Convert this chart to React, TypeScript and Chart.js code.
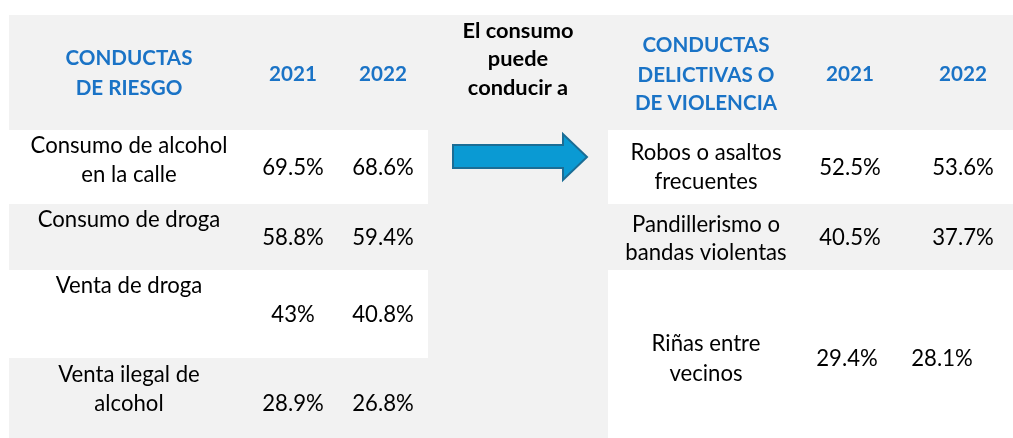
import React, { useEffect, useRef } from 'react';
import { Chart, registerables } from 'chart.js';

Chart.register(...registerables);

// ---- data ----
const riskHeader = ['CONDUCTAS', 'DE RIESGO'];
const years = ['2021', '2022'];
const riskBehaviors = [
  ['Consumo de alcohol', 'en la calle'],
  ['Consumo de droga'],
  ['Venta de droga'],
  ['Venta ilegal de', 'alcohol'],
];
const risk2021 = [69.5, 58.8, 43, 28.9];
const risk2022 = [68.6, 59.4, 40.8, 26.8];
const linkText = ['El consumo', 'puede', 'conducir a'];
const crimeHeader = ['CONDUCTAS', 'DELICTIVAS O', 'DE VIOLENCIA'];
const crimeBehaviors = [
  ['Robos o asaltos', 'frecuentes'],
  ['Pandillerismo o', 'bandas violentas'],
  ['Riñas entre', 'vecinos'],
];
const crime2021 = [52.5, 40.5, 29.4];
const crime2022 = [53.6, 37.7, 28.1];

const fmt = (v: number) => (Number.isInteger(v) ? `${v}%` : `${v.toFixed(1)}%`);

export default function App() {
  const ref = useRef<HTMLCanvasElement>(null);

  useEffect(() => {
    document.body.style.margin = '0';
    const FONT = 'Lato, "Noto Sans", sans-serif';
    const GRAY = '#f2f2f2';
    const BLUE = '#1a73c6';

    // layout (pixel units of the 1013x438 scale space)
    const L = {
      area: [9, 1013, 15, 438],
      leftX: [9, 428],
      rightX: [608, 1013],
      leftWhite: [[130, 204], [270, 358]],
      rightWhite: [[130, 204], [270, 438]],
      leftLabelX: 129,
      leftYearX: [293, 383],
      leftHeaderY: [65, 95],
      yearY: 81,
      linkX: 518,
      linkY: [38, 66, 95],
      rightLabelX: 706,
      rightYearX: [850, 963],
      rightHeaderY: [52, 82, 110],
      leftRowLabelY: [[153, 182], [227], [293], [382, 411]],
      leftRowValueY: [175, 245, 322, 411],
      rightRowLabelY: [[160, 189], [231.5, 260], [351, 381]],
      rightRowValueY: [175, 245, 366],
      rightValueX: [[850, 963], [850, 963], [847, 942]],
    };

    const tablePlugin = {
      id: 'tablePlugin',
      beforeDatasetsDraw(chart: any) {
        const { ctx } = chart;
        const X = (v: number) => chart.scales.x.getPixelForValue(v);
        const Y = (v: number) => chart.scales.y.getPixelForValue(v);
        const rect = (x0: number, x1: number, y0: number, y1: number, c: string) => {
          ctx.fillStyle = c;
          ctx.fillRect(X(x0), Y(y0), X(x1) - X(x0), Y(y1) - Y(y0));
        };
        ctx.save();
        // font sizing to match reference widths
        ctx.font = `24px ${FONT}`;
        const bodySize = (24 * 197) / ctx.measureText('Consumo de alcohol').width;
        ctx.font = `bold 24px ${FONT}`;
        const boldSize = (24 * 127) / ctx.measureText('CONDUCTAS').width;
        const linkSize = (24 * 111) / ctx.measureText('El consumo').width;
        const body = `${bodySize.toFixed(2)}px ${FONT}`;
        const bold = `bold ${boldSize.toFixed(2)}px ${FONT}`;
        const linkFont = `bold ${linkSize.toFixed(2)}px ${FONT}`;

        // backgrounds
        rect(L.area[0], L.area[1], L.area[2], L.area[3], GRAY);
        L.leftWhite.forEach(([a, b]) => rect(L.leftX[0], L.leftX[1], a, b, '#ffffff'));
        L.rightWhite.forEach(([a, b]) => rect(L.rightX[0], L.rightX[1], a, b, '#ffffff'));

        const text = (s: string, x: number, y: number, font: string, color: string) => {
          ctx.font = font;
          ctx.fillStyle = color;
          ctx.textAlign = 'center';
          ctx.textBaseline = 'alphabetic';
          ctx.fillText(s, X(x), Y(y));
        };

        // left header
        riskHeader.forEach((s, i) => text(s, L.leftLabelX, L.leftHeaderY[i], bold, BLUE));
        years.forEach((s, i) => text(s, L.leftYearX[i], L.yearY, bold, BLUE));
        // middle header
        linkText.forEach((s, i) => text(s, L.linkX, L.linkY[i], linkFont, '#000000'));
        // right header
        crimeHeader.forEach((s, i) => text(s, L.rightLabelX, L.rightHeaderY[i], bold, BLUE));
        years.forEach((s, i) => text(s, L.rightYearX[i], L.yearY, bold, BLUE));

        // left rows
        riskBehaviors.forEach((lines, r) => {
          lines.forEach((s, j) => text(s, L.leftLabelX, L.leftRowLabelY[r][j], body, '#000000'));
          text(fmt(risk2021[r]), L.leftYearX[0], L.leftRowValueY[r], body, '#000000');
          text(fmt(risk2022[r]), L.leftYearX[1], L.leftRowValueY[r], body, '#000000');
        });
        // right rows
        crimeBehaviors.forEach((lines, r) => {
          lines.forEach((s, j) => text(s, L.rightLabelX, L.rightRowLabelY[r][j], body, '#000000'));
          text(fmt(crime2021[r]), L.rightValueX[r][0], L.rightRowValueY[r], body, '#000000');
          text(fmt(crime2022[r]), L.rightValueX[r][1], L.rightRowValueY[r], body, '#000000');
        });

        // arrow
        ctx.beginPath();
        ctx.moveTo(X(453), Y(145));
        ctx.lineTo(X(563), Y(145));
        ctx.lineTo(X(563), Y(134));
        ctx.lineTo(X(587), Y(157));
        ctx.lineTo(X(563), Y(180));
        ctx.lineTo(X(563), Y(168));
        ctx.lineTo(X(453), Y(168));
        ctx.closePath();
        ctx.fillStyle = '#0a9ad3';
        ctx.fill();
        ctx.lineWidth = 2;
        ctx.strokeStyle = '#1b6d95';
        ctx.stroke();
        ctx.restore();
      },
    };

    const chart = new Chart(ref.current as HTMLCanvasElement, {
      type: 'scatter',
      data: { datasets: [{ data: [] }] },
      options: {
        animation: false,
        responsive: true,
        maintainAspectRatio: false,
        layout: { padding: 0 },
        plugins: { legend: { display: false }, tooltip: { enabled: false } },
        scales: {
          x: { type: 'linear', min: 0, max: 1013, display: false },
          y: { type: 'linear', min: 0, max: 438, reverse: true, display: false },
        },
      },
      plugins: [tablePlugin],
    });
    return () => chart.destroy();
  }, []);

  return (
    <div style={{ position: 'fixed', left: 0, top: 0, width: 1013, height: 438, background: '#ffffff' }}>
      <canvas ref={ref} />
    </div>
  );
}
